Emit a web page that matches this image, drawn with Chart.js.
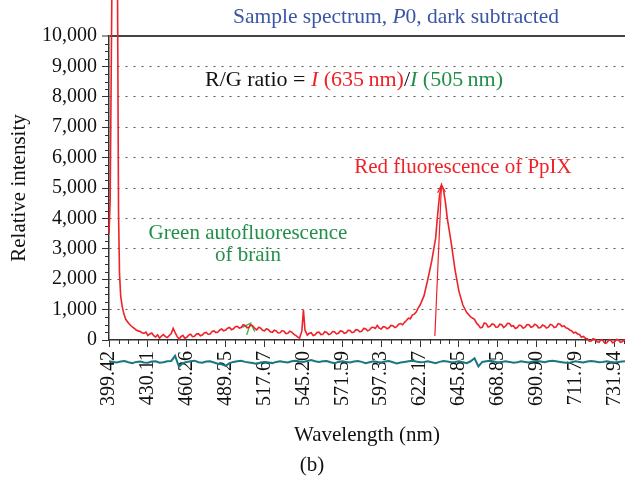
<!DOCTYPE html>
<html>
<head>
<meta charset="utf-8">
<script src="https://cdn.jsdelivr.net/npm/chart.js@4.4.1/dist/chart.umd.min.js"></script>
<style>
    html, body { margin: 0; padding: 0; background: #fff; }
    #wrap { width: 625px; height: 487px; }
</style>
</head>
<body>
<div id="wrap"><canvas id="spectrumChart"></canvas></div>
<script>
// wavelength printed under each major tick (detector pixel axis, so not evenly spaced in nm)
const wavelengthLabels = ['399.42', '430.11', '460.26', '489.25', '517.67', '545.20', '571.59',
    '597.33', '622.17', '645.85', '668.85', '690.90', '711.79', '731.94'];

// sample spectrum: [position in tick units, relative intensity]
const sampleSpectrum = [
    [0, 3500], [0.03, 4600], [0.09, 14000], [0.21, 14000], [0.245, 4200], [0.27, 2200],
    [0.3, 1450], [0.34, 1100], [0.38, 870], [0.43, 680], [0.5, 560], [0.57, 460], [0.64, 390],
    [0.7, 330], [0.75, 300], [0.8, 280], [0.85, 240], [0.9, 220], [0.95, 260], [1.0, 150],
    [1.05, 200], [1.1, 230], [1.15, 140], [1.2, 100], [1.25, 170], [1.3, 60], [1.35, 130],
    [1.4, 180], [1.45, 110], [1.5, 80], [1.55, 150], [1.6, 210], [1.65, 380], [1.7, 240],
    [1.75, 120], [1.8, 30], [1.85, 110], [1.9, 150], [1.95, 60], [2.0, 90], [2.05, 160],
    [2.1, 190], [2.15, 110], [2.2, 120], [2.25, 200], [2.3, 210], [2.35, 140], [2.4, 160],
    [2.45, 230], [2.5, 250], [2.55, 190], [2.6, 200], [2.65, 280], [2.7, 300], [2.75, 240],
    [2.8, 260], [2.85, 330], [2.9, 360], [2.95, 300], [3.0, 330], [3.05, 390], [3.1, 410],
    [3.15, 340], [3.2, 370], [3.25, 440], [3.3, 450], [3.35, 390], [3.4, 410], [3.45, 500],
    [3.5, 480], [3.55, 400], [3.6, 420], [3.65, 500], [3.7, 460], [3.75, 380], [3.8, 330],
    [3.85, 420], [3.9, 390], [3.95, 320], [4.0, 300], [4.05, 370], [4.1, 340], [4.15, 270],
    [4.2, 250], [4.25, 320], [4.3, 300], [4.35, 230], [4.4, 240], [4.45, 310], [4.5, 290],
    [4.55, 210], [4.6, 220], [4.65, 290], [4.7, 260], [4.75, 190], [4.8, 150], [4.85, 100],
    [4.9, 60], [4.96, 300], [5.0, 990], [5.04, 330], [5.1, 160], [5.15, 220], [5.2, 240],
    [5.25, 150], [5.3, 170], [5.35, 250], [5.4, 260], [5.45, 180], [5.5, 190], [5.55, 270],
    [5.6, 250], [5.65, 180], [5.7, 200], [5.75, 280], [5.8, 270], [5.85, 200], [5.9, 220],
    [5.95, 300], [6.0, 290], [6.05, 220], [6.1, 240], [6.15, 320], [6.2, 310], [6.25, 240],
    [6.3, 260], [6.35, 340], [6.4, 330], [6.45, 270], [6.5, 290], [6.55, 380], [6.6, 370],
    [6.65, 300], [6.7, 330], [6.75, 410], [6.8, 420], [6.85, 380], [6.9, 480], [6.95, 390],
    [7.0, 360], [7.05, 440], [7.1, 430], [7.15, 370], [7.2, 400], [7.25, 480], [7.3, 470],
    [7.35, 410], [7.4, 440], [7.45, 520], [7.5, 540], [7.55, 500], [7.6, 580], [7.65, 640],
    [7.7, 720], [7.75, 700], [7.8, 820], [7.85, 850], [7.9, 920], [7.95, 1050], [8.0, 1150],
    [8.1, 1450], [8.2, 2000], [8.3, 2600], [8.4, 3350], [8.45, 4100], [8.5, 4750], [8.55, 5100],
    [8.6, 4950], [8.65, 4550], [8.7, 4000], [8.8, 3200], [8.9, 2300], [9.0, 1600], [9.1, 1150],
    [9.2, 900], [9.3, 760], [9.4, 680], [9.45, 560], [9.5, 490], [9.55, 400], [9.6, 420],
    [9.65, 560], [9.7, 540], [9.75, 430], [9.8, 450], [9.85, 530], [9.9, 510], [9.95, 420],
    [10.0, 430], [10.05, 520], [10.1, 500], [10.15, 410], [10.2, 460], [10.25, 550], [10.3, 540],
    [10.35, 450], [10.4, 470], [10.45, 380], [10.5, 410], [10.55, 490], [10.6, 470], [10.65, 390],
    [10.7, 420], [10.75, 510], [10.8, 500], [10.85, 420], [10.9, 440], [10.95, 520], [11.0, 480],
    [11.05, 400], [11.1, 410], [11.15, 490], [11.2, 460], [11.25, 390], [11.3, 420], [11.35, 510],
    [11.4, 490], [11.45, 410], [11.5, 430], [11.55, 540], [11.6, 520], [11.65, 440], [11.7, 470],
    [11.75, 400], [11.8, 380], [11.85, 330], [11.9, 300], [11.95, 230], [12.0, 260], [12.05, 200],
    [12.1, 180], [12.15, 90], [12.2, 120], [12.25, 60], [12.3, 40], [12.35, -40], [12.4, -30],
    [12.45, 40], [12.5, 20], [12.55, -60], [12.6, -80], [12.65, 10], [12.7, -20], [12.75, -100],
    [12.8, -90], [12.85, -10], [12.9, 0], [12.95, -90], [13.0, -70], [13.05, 20], [13.1, 10],
    [13.15, -80], [13.2, -60], [13.25, 0], [13.3, -20]
];

// dark trace, drawn under the axis
const darkTrace = [
    [0, -700], [0.1, -720], [0.2, -740], [0.3, -710], [0.4, -690], [0.5, -730], [0.6, -760],
    [0.7, -720], [0.8, -710], [0.9, -740], [1.0, -750], [1.1, -710], [1.2, -700], [1.3, -750],
    [1.4, -730], [1.5, -700], [1.6, -690], [1.7, -520], [1.8, -880], [1.9, -760], [2.0, -720],
    [2.1, -700], [2.2, -680], [2.3, -730], [2.4, -750], [2.5, -710], [2.6, -700], [2.7, -740],
    [2.8, -780], [2.9, -800], [3.0, -850], [3.1, -760], [3.2, -720], [3.3, -700], [3.4, -680],
    [3.5, -720], [3.6, -740], [3.7, -760], [3.8, -790], [3.9, -740], [4.0, -720], [4.1, -740],
    [4.2, -760], [4.3, -720], [4.4, -700], [4.5, -720], [4.6, -740], [4.7, -700], [4.8, -680],
    [4.9, -710], [5.0, -720], [5.1, -690], [5.2, -660], [5.3, -700], [5.4, -720], [5.5, -700],
    [5.6, -690], [5.7, -730], [5.8, -760], [5.9, -720], [6.0, -700], [6.1, -720], [6.2, -740],
    [6.3, -710], [6.4, -690], [6.5, -720], [6.6, -760], [6.7, -730], [6.8, -700], [6.9, -720],
    [7.0, -740], [7.1, -710], [7.2, -690], [7.3, -730], [7.4, -770], [7.5, -740], [7.6, -720],
    [7.7, -700], [7.8, -680], [7.9, -710], [8.0, -730], [8.1, -720], [8.2, -700], [8.3, -730],
    [8.4, -760], [8.5, -720], [8.6, -690], [8.7, -710], [8.8, -730], [8.9, -720], [9.0, -700],
    [9.1, -730], [9.2, -760], [9.3, -700], [9.4, -600], [9.5, -870], [9.6, -720], [9.7, -700],
    [9.8, -680], [9.9, -710], [10.0, -740], [10.1, -720], [10.2, -700], [10.3, -720], [10.4, -750],
    [10.5, -730], [10.6, -700], [10.7, -720], [10.8, -740], [10.9, -710], [11.0, -690],
    [11.1, -710], [11.2, -730], [11.3, -700], [11.4, -680], [11.5, -700], [11.6, -720],
    [11.7, -740], [11.8, -760], [11.9, -730], [12.0, -700], [12.1, -720], [12.2, -740],
    [12.3, -710], [12.4, -690], [12.5, -710], [12.6, -730], [12.7, -720], [12.8, -700],
    [12.9, -720], [13.0, -740], [13.1, -720], [13.2, -710], [13.3, -700]
];

// pointer lines (red to the PpIX peak, green to the autofluorescence band)
const peakPointer = [[8.38, 130], [8.55, 5100], [8.45, 4840], [8.55, 5100], [8.65, 4870]];
const greenPointer = [[3.54, 165], [3.64, 550], [3.43, 415], [3.64, 550], [3.75, 275]];

const SERIF = '"Liberation Serif", "DejaVu Serif", serif';
const RED = '#ee2229';
const GREEN = '#22904a';
const TEAL = '#17787d';
const BLUE = '#3a56a6';
const AXIS = '#333';

function toPoints(pairs) {
    return pairs.map(p => ({ x: p[0], y: p[1] }));
}

function drawParts(ctx, parts, cx, cy, size) {
    let total = 0;
    parts.forEach(p => {
        ctx.font = (p.italic ? 'italic ' : '') + size + 'px ' + SERIF;
        p.w = ctx.measureText(p.text).width;
        total += p.w;
    });
    let x = cx - total / 2;
    ctx.textAlign = 'left';
    ctx.textBaseline = 'middle';
    parts.forEach(p => {
        ctx.font = (p.italic ? 'italic ' : '') + size + 'px ' + SERIF;
        ctx.fillStyle = p.color;
        ctx.fillText(p.text, x, cy);
        x += p.w;
    });
}

// small ticks between the labelled ones
const minorTicks = {
    id: 'minorTicks',
    beforeDatasetsDraw(chart) {
        const { ctx, chartArea, scales } = chart;
        ctx.save();
        ctx.strokeStyle = AXIS;
        ctx.lineWidth = 1;
        ctx.beginPath();
        for (let v = 250; v < 10000; v += 250) {
            if (v % 1000 === 0) continue;
            const py = Math.round(scales.y.getPixelForValue(v)) + 0.5;
            ctx.moveTo(chartArea.left - 4, py);
            ctx.lineTo(chartArea.left, py);
        }
        for (let q = 1; q < 54; q++) {
            if (q % 4 === 0) continue;
            const px = Math.round(scales.x.getPixelForValue(q / 4)) + 0.5;
            ctx.moveTo(px, chartArea.bottom);
            ctx.lineTo(px, chartArea.bottom + 4);
        }
        ctx.stroke();
        ctx.restore();
    }
};

// title, ratio formula and the labels inside the plot
const captions = {
    id: 'captions',
    afterDraw(chart) {
        const ctx = chart.ctx;
        ctx.save();
        drawParts(ctx, [
            { text: 'Sample spectrum, ', color: BLUE },
            { text: 'P', color: BLUE, italic: true },
            { text: '0, dark subtracted', color: BLUE }
        ], 396, 17, 21.5);
        drawParts(ctx, [
            { text: 'R/G ratio = ', color: '#111' },
            { text: 'I', color: RED, italic: true },
            { text: ' (635\u2009nm)', color: RED },
            { text: '/', color: '#111' },
            { text: 'I', color: GREEN, italic: true },
            { text: ' (505\u2009nm)', color: GREEN }
        ], 354, 80, 22);
        drawParts(ctx, [{ text: 'Red fluorescence of PpIX', color: RED }], 463, 167, 21);
        drawParts(ctx, [{ text: 'Green autofluorescence', color: GREEN }], 248, 233, 21);
        drawParts(ctx, [{ text: 'of brain', color: GREEN }], 248, 255, 21);
        drawParts(ctx, [{ text: '(b)', color: '#111' }], 312, 465, 21);
        ctx.restore();
    }
};

document.addEventListener('DOMContentLoaded', function () {

    const spectrumCtx = document.getElementById('spectrumChart');
    new Chart(spectrumCtx, {
        type: 'line',
        data: {
            datasets: [
                {
                    label: 'Sample spectrum',
                    data: toPoints(sampleSpectrum),
                    borderColor: RED,
                    borderWidth: 1.6,
                    pointRadius: 0,
                    clip: false,
                },
                {
                    label: 'Dark',
                    data: toPoints(darkTrace),
                    borderColor: TEAL,
                    borderWidth: 2,
                    pointRadius: 0,
                    clip: false,
                },
                {
                    label: 'Peak pointer',
                    data: toPoints(peakPointer),
                    borderColor: RED,
                    borderWidth: 1.2,
                    pointRadius: 0,
                    clip: false,
                },
                {
                    label: 'Green pointer',
                    data: toPoints(greenPointer),
                    borderColor: '#3cb043',
                    borderWidth: 1.3,
                    pointRadius: 0,
                    clip: false,
                },
            ]
        },
        options: {
            responsive: true,
            maintainAspectRatio: false,
            animation: false,
            devicePixelRatio: 1,
            layout: { padding: { top: 36, left: 0, right: 0, bottom: 0 } },
            plugins: {
                legend: { display: false },
                tooltip: { enabled: false },
            },
            scales: {
                x: {
                    type: 'linear',
                    min: 0,
                    max: 13.27,
                    afterFit: scale => {
                        scale.height = 147;
                        scale.paddingLeft = 0;
                        scale.paddingRight = 0;
                    },
                    ticks: {
                        stepSize: 1,
                        includeBounds: false,
                        autoSkip: false,
                        minRotation: 90,
                        maxRotation: 90,
                        padding: 4,
                        color: '#111',
                        font: { family: SERIF, size: 20 },
                        callback: value => wavelengthLabels[value] || '',
                    },
                    grid: {
                        drawOnChartArea: false,
                        tickLength: 7,
                        tickColor: AXIS,
                        tickWidth: 1,
                    },
                    border: { color: AXIS, width: 1.5 },
                    title: {
                        display: true,
                        text: 'Wavelength (nm)',
                        color: '#111',
                        font: { family: SERIF, size: 21 },
                        padding: { top: 0, bottom: 39 },
                    }
                },
                y: {
                    min: 0,
                    max: 10000,
                    afterFit: scale => {
                        scale.width = 109;
                        scale.paddingTop = 0;
                        scale.paddingBottom = 0;
                    },
                    ticks: {
                        stepSize: 1000,
                        padding: 5,
                        color: '#111',
                        font: { family: SERIF, size: 20 },
                        callback: value => value.toLocaleString('en-US'),
                    },
                    grid: {
                        color: c => c.tick && c.tick.value === 0 ? 'rgba(0,0,0,0)' : (c.tick && c.tick.value === 10000 ? '#444' : '#555'),
                        lineWidth: c => c.tick && c.tick.value === 10000 ? 2 : 1,
                        tickLength: 7,
                        tickColor: AXIS,
                        tickWidth: 1,
                    },
                    border: {
                        color: AXIS,
                        width: 1.5,
                        dash: c => c.tick && c.tick.value === 10000 ? [] : [2, 6],
                    },
                    title: {
                        display: true,
                        text: 'Relative intensity',
                        color: '#111',
                        font: { family: SERIF, size: 21 },
                        padding: { top: 7, bottom: 0 },
                    }
                }
            }
        },
        plugins: [minorTicks, captions]
    });

});
</script>
</body>
</html>
